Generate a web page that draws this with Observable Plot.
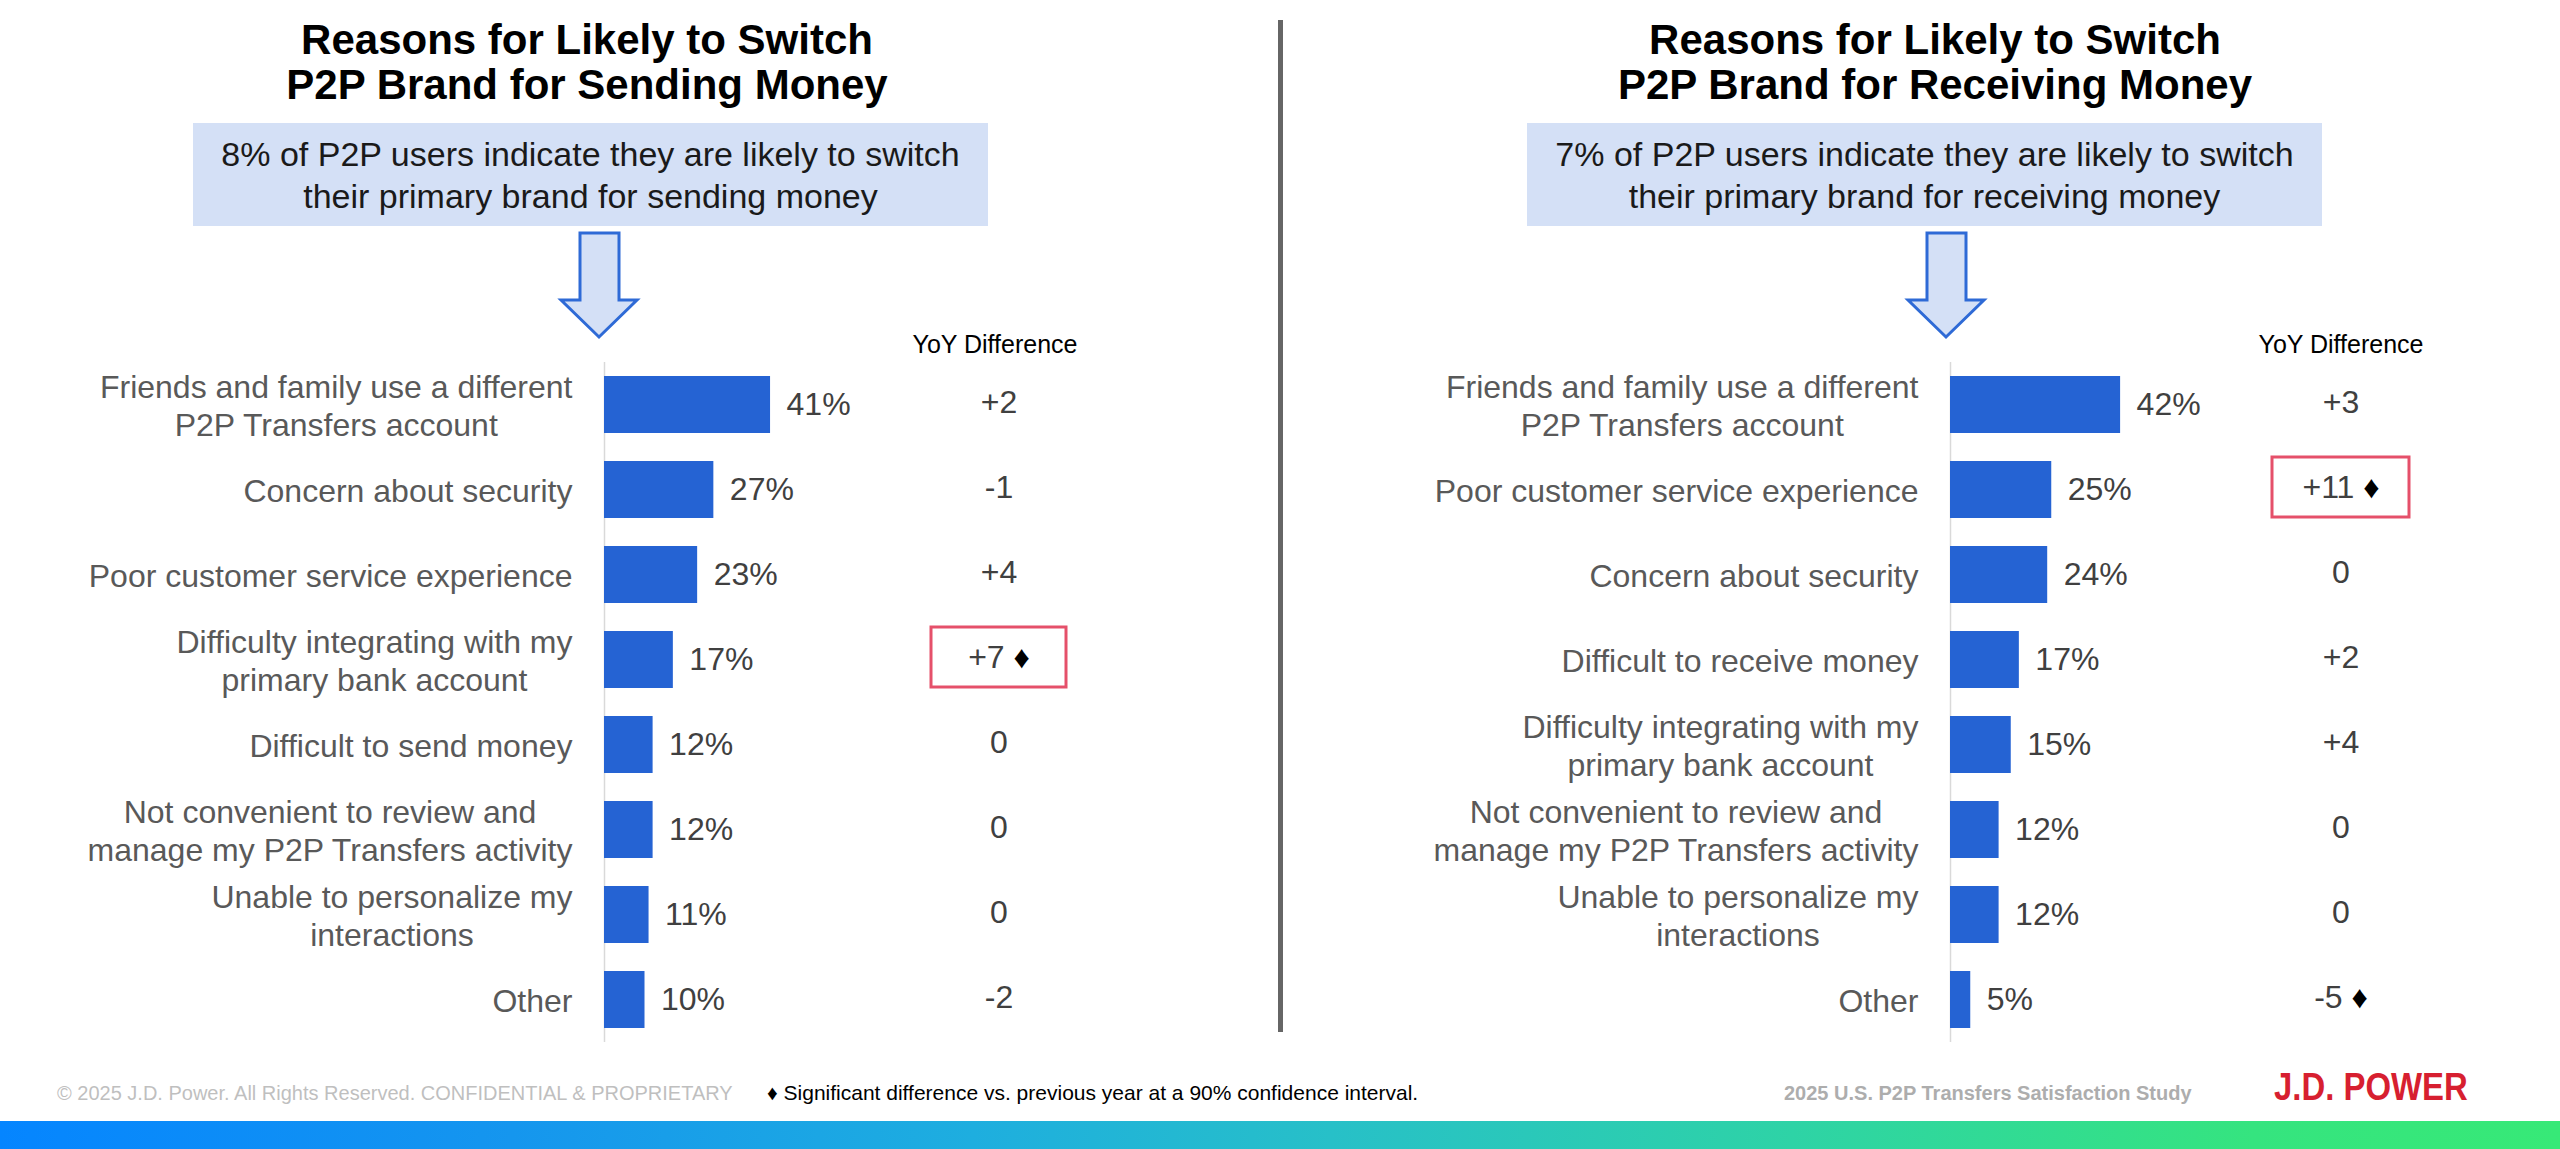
<!DOCTYPE html>
<html>
<head>
<meta charset="utf-8">
<script src="https://cdn.jsdelivr.net/npm/d3@7"></script>
<script src="https://cdn.jsdelivr.net/npm/@observablehq/plot@0.6"></script>
<style>
  html, body { margin: 0; padding: 0; background: #fff; }
  body { font-family: "Liberation Sans", Arial, sans-serif; }
  #page { position: relative; width: 2560px; height: 1149px; overflow: hidden; background: #fff; }
  .abs { position: absolute; }
  .title { font-weight: bold; font-size: 42px; line-height: 45px; text-align: center; color: #000; white-space: nowrap; transform: translateX(-50%); top: 17px; }
  .sub { background: #D4E0F6; font-size: 34px; line-height: 42px; text-align: center; color: #1a1a1a; display: flex; align-items: center; justify-content: center; top: 123px; width: 795px; height: 103px; white-space: nowrap; }
  .yoyhead { font-size: 25px; line-height: 30px; top: 329px; color: #000; transform: translateX(-50%); white-space: nowrap; }
  .foot { font-size: 20px; line-height: 24px; top: 1081px; white-space: nowrap; }
  .logo { left: 2274px; top: 1068px; font-size: 38px; line-height: 38px; font-weight: bold; color: #D71F30; white-space: nowrap; transform: scaleX(0.866); transform-origin: left center; }
  .grad { left: 0; top: 1121px; width: 2560px; height: 28px; background: linear-gradient(90deg, #0585FF 0%, #1596EE 20%, #1EAEDF 38%, #27C0C8 52%, #2ED3A6 70%, #35E47F 88%, #37E977 100%); }
</style>
</head>
<body>
<div id="page">
  <svg class="abs" style="left:0;top:0" width="2560" height="1149">
    <line x1="1280.5" y1="20" x2="1280.5" y2="1032" stroke="#666666" stroke-width="5"/>
    <polygon points="580,233 619,233 619,300 637,300 599,337 561,300 580,300" fill="#D4E0F6" stroke="#2E6AD6" stroke-width="3" stroke-linejoin="miter"/>
    <polygon points="1927,233 1966,233 1966,300 1984,300 1946,337 1908,300 1927,300" fill="#D4E0F6" stroke="#2E6AD6" stroke-width="3" stroke-linejoin="miter"/>
  </svg>

  <div class="abs title" style="left:587px">Reasons for Likely to Switch<br>P2P Brand for Sending Money</div>
  <div class="abs title" style="left:1935px">Reasons for Likely to Switch<br>P2P Brand for Receiving Money</div>

  <div class="abs sub" style="left:193px">8% of P2P users indicate they are likely to switch<br>their primary brand for sending money</div>
  <div class="abs sub" style="left:1527px">7% of P2P users indicate they are likely to switch<br>their primary brand for receiving money</div>

  <div class="abs yoyhead" style="left:995px">YoY Difference</div>
  <div class="abs yoyhead" style="left:2341px">YoY Difference</div>

  <div id="sendBars" class="abs" style="left:0;top:320px;width:1009px;height:740px"></div>
  <div id="sendYoy" class="abs" style="left:921px;top:320px;width:155px;height:740px"></div>
  <div id="recvBars" class="abs" style="left:1280px;top:320px;width:1075px;height:740px"></div>
  <div id="recvYoy" class="abs" style="left:2262px;top:320px;width:157px;height:740px"></div>

  <div class="abs foot" style="left:57px;color:#BFBFBF">© 2025 J.D. Power. All Rights Reserved. CONFIDENTIAL &amp; PROPRIETARY</div>
  <div class="abs foot" style="left:767px;color:#000;font-size:21px">♦ Significant difference vs. previous year at a 90% confidence interval.</div>
  <div class="abs foot" style="left:1784px;color:#ADADAD;font-weight:bold">2025 U.S. P2P Transfers Satisfaction Study</div>
  <div class="abs logo">J.D. POWER</div>
  <div class="abs grad"></div>
</div>

<script>
// ---- Data: sending money ----
const sendCategories = [
  "Friends and family use a different P2P Transfers account",
  "Concern about security",
  "Poor customer service experience",
  "Difficulty integrating with my primary bank account",
  "Difficult to send money",
  "Not convenient to review and manage my P2P Transfers activity",
  "Unable to personalize my interactions",
  "Other"
];
const sendTickLabels = [
  "Friends and family use a different\nP2P Transfers account",
  "Concern about security",
  "Poor customer service experience",
  "Difficulty integrating with my\nprimary bank account",
  "Difficult to send money",
  "Not convenient to review and\nmanage my P2P Transfers activity",
  "Unable to personalize my\ninteractions",
  "Other"
];
const sendValues = [41, 27, 23, 17, 12, 12, 11, 10];
const sendYoY = [2, -1, 4, 7, 0, 0, 0, -2];
const sendSignificant = [false, false, false, true, false, false, false, false];
const sendHighlighted = [false, false, false, true, false, false, false, false];

// ---- Data: receiving money ----
const recvCategories = [
  "Friends and family use a different P2P Transfers account",
  "Poor customer service experience",
  "Concern about security",
  "Difficult to receive money",
  "Difficulty integrating with my primary bank account",
  "Not convenient to review and manage my P2P Transfers activity",
  "Unable to personalize my interactions",
  "Other"
];
const recvTickLabels = [
  "Friends and family use a different\nP2P Transfers account",
  "Poor customer service experience",
  "Concern about security",
  "Difficult to receive money",
  "Difficulty integrating with my\nprimary bank account",
  "Not convenient to review and\nmanage my P2P Transfers activity",
  "Unable to personalize my\ninteractions",
  "Other"
];
const recvValues = [42, 25, 24, 17, 15, 12, 12, 5];
const recvYoY = [3, 11, 0, 2, 4, 0, 0, -5];
const recvSignificant = [false, true, false, false, false, false, false, true];
const recvHighlighted = [false, true, false, false, false, false, false, false];

const FONT = "Liberation Sans, Arial, sans-serif";
const SVGNS = "http://www.w3.org/2000/svg";
const yBand = (cats) => ({domain: cats, paddingInner: 0.33, paddingOuter: 0.14, align: 0.5});

function barsChart(cats, ticks, vals, width, marginLeft) {
  const data = cats.map((c, i) => ({cat: c, value: vals[i]}));
  const tickMap = new Map(cats.map((c, i) => [c, ticks[i]]));
  return Plot.plot({
    width, height: 740,
    marginTop: 42, marginBottom: 18, marginLeft, marginRight: 0,
    style: {background: "transparent", overflow: "visible", fontFamily: FONT},
    x: {domain: [0, 100], axis: null},
    y: yBand(cats),
    marks: [
      Plot.ruleX([0], {stroke: "#D9D9D9", strokeWidth: 1.5}),
      Plot.barX(data, {x: "value", y: "cat", fill: "#2563D3"}),
      Plot.text(data, {x: "value", y: "cat", text: d => d.value + "%", dx: 16, textAnchor: "start", fill: "#404040", fontSize: 32}),
      Plot.axisY({tickSize: 0, tickPadding: 32, fontSize: 32, color: "#595959", lineHeight: 1.19, label: null, tickFormat: d => tickMap.get(d)})
    ]
  });
}

function fmtDiff(v) { return v > 0 ? "+" + v : String(v); }

function yoyChart(cats, yoy, sig, hl, width) {
  const data = cats.map((c, i) => ({cat: c, yoy: yoy[i], sig: sig[i], hl: hl[i]}));
  return Plot.plot({
    width, height: 740,
    marginTop: 42, marginBottom: 18, marginLeft: 10, marginRight: 10,
    style: {background: "transparent", overflow: "visible", fontFamily: FONT},
    y: {...yBand(cats), axis: null},
    marks: [
      Plot.cell(data.filter(d => d.hl), {y: "cat", fill: "none", stroke: "#E5506A", strokeWidth: 3, insetTop: -4, insetBottom: 1}),
      Plot.text(data, {y: "cat", frameAnchor: "middle", dy: -2, text: d => fmtDiff(d.yoy) + (d.sig ? " ♦" : ""), fill: "#404040", fontSize: 32})
    ]
  });
}

function centerMultiline(svg) {
  svg.querySelectorAll("text").forEach(t => {
    const spans = t.querySelectorAll("tspan");
    if (spans.length < 2) return;
    const ws = Array.from(spans, s => s.getComputedTextLength());
    const W = Math.max(...ws);
    spans.forEach((s, i) => {
      const x0 = parseFloat(s.getAttribute("x") || 0);
      s.setAttribute("x", x0 - (W - ws[i]) / 2);
    });
  });
}

function blackDiamonds(svg) {
  svg.querySelectorAll("text").forEach(t => {
    if (t.querySelector("tspan")) return;
    const s = t.textContent;
    const i = s.indexOf("♦");
    if (i < 0) return;
    t.textContent = "";
    const a = document.createElementNS(SVGNS, "tspan");
    a.textContent = s.slice(0, i);
    const b = document.createElementNS(SVGNS, "tspan");
    b.textContent = s.slice(i);
    b.setAttribute("fill", "#000");
    t.appendChild(a); t.appendChild(b);
  });
}

const sb = barsChart(sendCategories, sendTickLabels, sendValues, 1009, 604);
document.getElementById("sendBars").appendChild(sb);
centerMultiline(sb);
const rb = barsChart(recvCategories, recvTickLabels, recvValues, 1075, 670);
document.getElementById("recvBars").appendChild(rb);
centerMultiline(rb);

const sy = yoyChart(sendCategories, sendYoY, sendSignificant, sendHighlighted, 155);
document.getElementById("sendYoy").appendChild(sy);
blackDiamonds(sy);
const ry = yoyChart(recvCategories, recvYoY, recvSignificant, recvHighlighted, 157);
document.getElementById("recvYoy").appendChild(ry);
blackDiamonds(ry);
</script>
</body>
</html>
